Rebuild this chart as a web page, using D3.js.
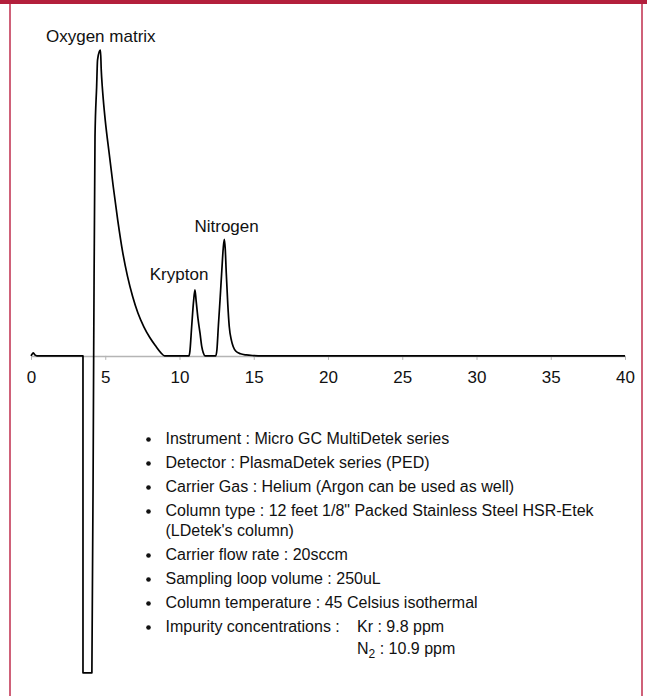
<!DOCTYPE html>
<html>
<head>
<meta charset="utf-8">
<script src="https://cdn.jsdelivr.net/npm/d3@7"></script>
<style>
  body { margin: 0; background: #fff; }
  text { font-family: "Liberation Sans", Arial, sans-serif; fill: #111; }
</style>
</head>
<body>
<div id="chart"></div>
<script>
// retention time (min) and detector signal (peak of oxygen = 100)
var times = [0, 0.08, 0.16, 0.26, 0.4, 3.5, 3.501, 4.1, 4.22, 4.31, 4.42, 4.48, 4.6, 4.68,
  4.73, 4.8, 4.87, 5.0, 5.27, 5.54, 5.84, 6.17, 6.5, 6.84, 7.2, 7.6, 8.0, 8.4, 8.75, 9.0,
  10.64, 10.7, 10.82, 10.95, 11.04, 11.12, 11.25, 11.38, 11.5, 11.6, 11.72,
  12.44, 12.52, 12.62, 12.73, 12.85, 12.95, 13.02, 13.08, 13.15, 13.25, 13.35, 13.5, 13.62,
  13.8, 14.1, 14.5, 15.0, 15.5, 40];
var signal = [0, 0.6, 1.0, 0.3, 0, 0, -103.6, -103.6, 0, 71.6, 88, 96.7, 99.5, 100,
  93.5, 88, 83.7, 77, 66, 55.3, 44.4, 34, 26, 19.5, 14, 9.5, 6.0, 3.2, 1.0, 0,
  0, 1.5, 9.6, 18, 21.6, 18, 12, 7.5, 3, 1, 0,
  0, 2, 10, 18.3, 28, 35.5, 38.1, 35, 27, 17, 9.6, 5, 3,
  1.5, 0.7, 0.3, 0.1, 0, 0];

var peakNames = ["Oxygen matrix", "Krypton", "Nitrogen"];
var peakTimes = [4.7, 9.97, 13.17];
var peakHeights = [100, 21.6, 38.1];

var xTicks = [0, 5, 10, 15, 20, 25, 30, 35, 40];

var conditions = [
  ["Instrument : Micro GC MultiDetek series"],
  ["Detector : PlasmaDetek series (PED)"],
  ["Carrier Gas : Helium (Argon can be used as well)"],
  ["Column type : 12 feet 1/8\" Packed Stainless Steel HSR-Etek", "(LDetek's column)"],
  ["Carrier flow rate : 20sccm"],
  ["Sampling loop volume : 250uL"],
  ["Column temperature : 45 Celsius isothermal"],
  ["Impurity concentrations :"]
];
var impurities = [["Kr", "", " : 9.8 ppm"], ["N", "2", " : 10.9 ppm"]];

var w = 647, h = 696;

var svg = d3.select("#chart").append("svg")
  .attr("width", w)
  .attr("height", h);

// frame
svg.append("rect").attr("x", 0).attr("y", 0).attr("width", w).attr("height", h).attr("fill", "#fff");
svg.append("rect").attr("x", 9).attr("y", 0).attr("width", 2).attr("height", h).attr("fill", "#cf6179");
svg.append("rect").attr("x", 641).attr("y", 0).attr("width", 2).attr("height", h).attr("fill", "#cf6179");
svg.append("rect").attr("x", 0).attr("y", 0).attr("width", w).attr("height", 4).attr("fill", "#b31f3c");

var x = d3.scaleLinear().domain([0, 40]).range([31, 625]);
var y = d3.scaleLinear().domain([-104, 100]).range([674, 50]);

// x axis
var axis = svg.append("g")
  .attr("transform", `translate(0,${y(0)})`)
  .call(d3.axisBottom(x).tickValues(xTicks).tickSize(4).tickSizeOuter(0).tickPadding(11));
axis.select(".domain").attr("stroke", "#b5b5b5").attr("stroke-width", 1.5);
axis.selectAll(".tick line").attr("stroke", "#b5b5b5");
axis.selectAll(".tick text")
  .style("font-family", "'Liberation Sans', Arial, sans-serif")
  .style("font-size", "17px")
  .attr("fill", "#111");

// chromatogram
var pts = times.map((t, i) => [t, signal[i]]);
var line = d3.line().x(d => x(d[0])).y(d => y(d[1])).curve(d3.curveMonotoneX);
svg.append("path")
  .datum(pts)
  .attr("d", line)
  .attr("fill", "none")
  .attr("stroke", "#000")
  .attr("stroke-width", 1.7)
  .attr("stroke-linejoin", "round");

// peak labels
var labelGap = [8, 10, 7];
svg.selectAll(".peak-label")
  .data(peakNames)
  .enter()
  .append("text")
  .attr("class", "peak-label")
  .attr("x", (d, i) => x(peakTimes[i]))
  .attr("y", (d, i) => y(peakHeights[i]) - labelGap[i])
  .attr("text-anchor", "middle")
  .style("font-size", "17px")
  .text(d => d);

// conditions list
var listX = 165.5, lineY = 444;
var ty = lineY;
conditions.forEach(function(item) {
  svg.append("circle").attr("cx", 148.5).attr("cy", ty - 4.5).attr("r", 2.3).attr("fill", "#111");
  item.forEach(function(s, j) {
    svg.append("text")
      .attr("x", listX)
      .attr("y", ty + j * 20)
      .style("font-size", "16px")
      .text(s);
  });
  ty += 24 + (item.length - 1) * 20;
});

// impurity values
var impY = ty - 24;
impurities.forEach(function(d, i) {
  var t = svg.append("text")
    .attr("x", 357)
    .attr("y", impY + i * 22)
    .style("font-size", "16px");
  t.append("tspan").text(d[0]);
  if (d[1]) t.append("tspan").attr("dy", 4).style("font-size", "12px").text(d[1]);
  t.append("tspan").attr("dy", d[1] ? -4 : 0).text(d[2]);
});
</script>
</body>
</html>
